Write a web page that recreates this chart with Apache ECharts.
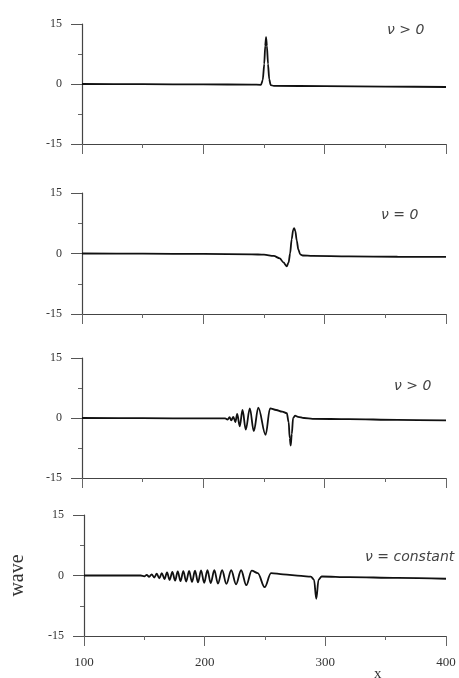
<!DOCTYPE html>
<html>
<head>
<meta charset="utf-8">
<script src="https://cdn.jsdelivr.net/npm/echarts@6/dist/echarts.min.js"></script>
<style>
  html, body { margin: 0; padding: 0; background: #fff; }
  #main { width: 459px; height: 678px; }
</style>
</head>
<body>
<div id="main"></div>
<script>
// panel 1: nu > 0, single spike
var x1 = [100, 150, 200, 240, 247.5, 249, 250.2, 251, 251.7, 252.4, 253.3, 254.3, 255.5, 258, 300, 350, 400];
var y1 = [0, -0.05, -0.1, -0.15, -0.2, 1.0, 5.0, 9.5, 11.7, 9.5, 5.0, 1.2, -0.3, -0.45, -0.55, -0.65, -0.75];

// panel 2: nu = 0, dipole
var x2 = [100, 150, 200, 240, 250, 258, 263, 266, 268.7, 270.3, 271.5, 272.8, 274, 274.8, 275.8, 277, 278.3, 279.8, 282, 290, 320, 360, 400];
var y2 = [0, -0.05, -0.1, -0.2, -0.3, -0.6, -1.2, -2.2, -3.2, -2.2, 0, 3.5, 5.8, 6.3, 5.6, 3.2, 1.0, -0.2, -0.5, -0.6, -0.7, -0.8, -0.85];

// panel 3: nu > 0, short wave train
var x3 = [100, 150, 200, 218, 220, 221.6, 223, 224.7, 226.4, 227.9, 230, 232.3, 235, 238.3, 241.6, 245.3, 251.3, 255, 260, 265, 268.8, 270.3, 271.2, 272, 272.9, 274, 275.6, 278, 283, 290, 320, 360, 400];
var y3 = [0, -0.05, -0.1, -0.1, -0.4, 0.2, -0.6, 0.3, -1.0, 1.0, -2.1, 2.0, -2.9, 2.4, -3.3, 2.6, -4.2, 2.4, 2.0, 1.6, 1.2, -1.0, -5.0, -6.9, -4.0, 0, 0.6, 0.3, 0, -0.2, -0.3, -0.45, -0.6];

// panel 4: nu = constant, long wave train
var x4 = [100, 140, 147, 150, 152, 154, 156.1, 158.2, 160.3, 162.4, 164.5, 166.7, 168.8, 171, 173.2, 175.5, 177.7, 180, 182.3, 184.7, 187.1, 189.5, 192, 194.5, 197, 199.6, 202.3, 205, 208, 211, 214.5, 218, 222, 226, 230.2, 234.5, 239, 244, 249.7, 255, 265, 280, 288, 290.6, 292.5, 294.4, 297, 320, 360, 400];
var y4 = [0, 0, 0, -0.2, 0.15, -0.35, 0.3, -0.5, 0.45, -0.7, 0.6, -0.9, 0.75, -1.1, 0.9, -1.25, 1.0, -1.4, 1.1, -1.5, 1.15, -1.6, 1.2, -1.7, 1.25, -1.8, 1.3, -1.9, 1.3, -2.0, 1.3, -2.1, 1.3, -2.2, 1.3, -2.4, 1.2, 0.6, -2.9, 0.6, 0.3, -0.1, -0.3, -1.0, -5.8, -1.0, -0.25, -0.4, -0.6, -0.8];

var yTicks = [-15, 0, 15];
var xTicks = [100, 200, 300, 400];
var labels = ["ν > 0", "ν = 0", "ν > 0", "ν = constant"];

function pairs(xs, ys) {
  var out = [];
  for (var i = 0; i < xs.length; i++) out.push([xs[i], ys[i]]);
  return out;
}

var myChart = echarts.init(document.getElementById("main"));

var panels = [[x1, y1], [x2, y2], [x3, y3], [x4, y4]];
var tops = [24, 193, 358, 515];
var heights = [120, 121, 120, 121];
var smooths = [0.2, 0.3, 0.35, 0.35];
var labelPos = [[382, 18], [376, 203], [389, 374], [360, 545]];

var grids = [], xAxes = [], yAxes = [], series = [], titles = [];
var lineColor = "#444";
for (var i = 0; i < 4; i++) {
  grids.push({ left: 82, width: 364, top: tops[i], height: heights[i] });
  xAxes.push({
    type: "value",
    gridIndex: i,
    min: xTicks[0],
    max: xTicks[xTicks.length - 1],
    interval: 100,
    axisLine: { show: true, onZero: false, lineStyle: { color: lineColor, width: 1.2 } },
    axisTick: { show: true, length: 10, lineStyle: { color: "#666" } },
    minorTick: { show: true, splitNumber: 2, length: 4, lineStyle: { color: "#666" } },
    splitLine: { show: false },
    axisLabel: {
      show: i === 3,
      margin: 20,
      color: "#333",
      fontFamily: "Liberation Serif",
      fontSize: 13,
    },
  });
  yAxes.push({
    type: "value",
    gridIndex: i,
    min: yTicks[0],
    max: yTicks[yTicks.length - 1],
    interval: 15,
    axisLine: { show: true, onZero: false, lineStyle: { color: lineColor, width: 1.2 } },
    axisTick: { show: true, length: 11, lineStyle: { color: "#555" } },
    minorTick: { show: true, splitNumber: 2, length: 4, lineStyle: { color: "#666" } },
    splitLine: { show: false },
    axisLabel: {
      margin: 20,
      color: "#333",
      fontFamily: "Liberation Serif",
      fontSize: 12,
    },
    name: i === 3 ? "wave" : "",
    nameLocation: "middle",
    nameGap: 56,
    nameTextStyle: { fontFamily: "Liberation Serif", fontSize: 20, color: "#333" },
  });
  series.push({
    type: "line",
    xAxisIndex: i,
    yAxisIndex: i,
    data: pairs(panels[i][0], panels[i][1]),
    showSymbol: false,
    smooth: smooths[i],
    smoothMonotone: "x",
    lineStyle: { color: "#111", width: 1.8 },
    animation: false,
  });
  titles.push({
    text: labels[i],
    left: labelPos[i][0],
    top: labelPos[i][1],
    textStyle: {
      fontFamily: "DejaVu Sans",
      fontSize: 14,
      fontWeight: "normal",
      fontStyle: "italic",
      color: "#444",
    },
  });
}
titles.push({
  text: "x",
  left: 369,
  top: 662,
  textStyle: { fontFamily: "Liberation Serif", fontSize: 15, fontWeight: "normal", color: "#333" },
});

var option = {
  backgroundColor: "#fff",
  animation: false,
  title: titles,
  grid: grids,
  xAxis: xAxes,
  yAxis: yAxes,
  series: series,
};
myChart.setOption(option);
</script>
</body>
</html>
